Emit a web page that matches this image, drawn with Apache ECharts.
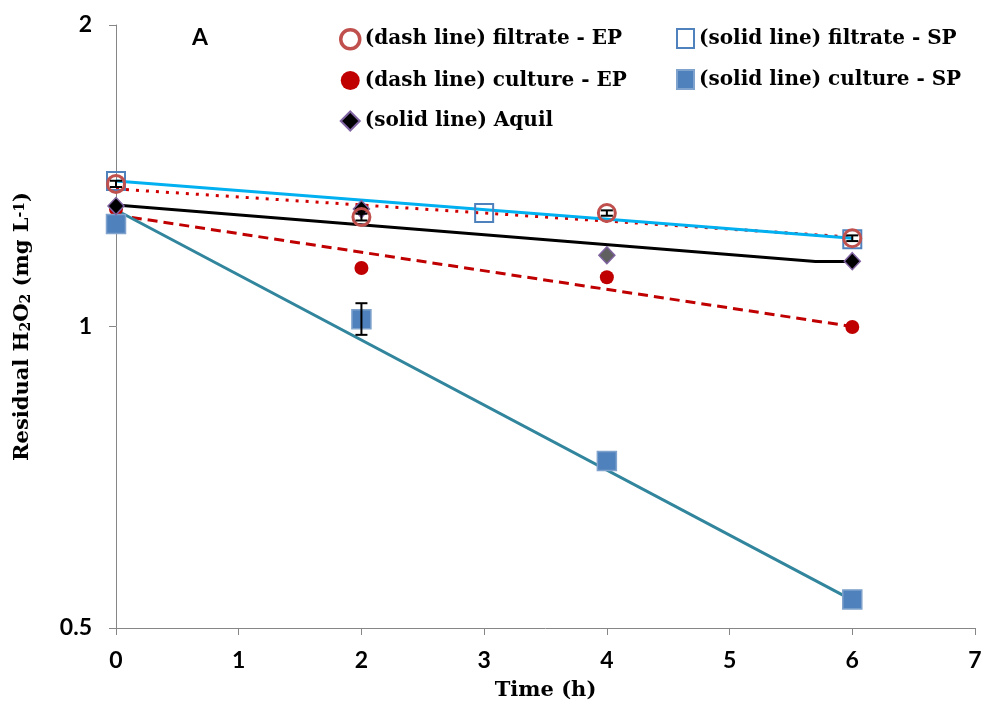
<!DOCTYPE html>
<html><head><meta charset="utf-8">
<script src="https://cdn.jsdelivr.net/npm/echarts@6/dist/echarts.min.js"></script>
<style>html,body{margin:0;padding:0;background:#fff}#c{width:986px;height:713px}</style>
</head><body><div id="c"></div>
<script>
const xTicks = [0,1,2,3,4,5,6,7];
const yTicks = [0.5,1,2];
const filtrateEP = [[0,1.388],[2,1.286],[4,1.298],[6,1.225]];
const filtrateSP = [[0,1.397],[3,1.298],[6,1.222]];
const cultureEP  = [[0,1.31],[2,1.144],[4,1.12],[6,0.999]];
const cultureSP  = [[0,1.266],[2,1.017],[4,0.734],[6,0.534]];
const aquil      = [[0,1.319],[2,1.31],[4,1.178],[6,1.162]];
const trendFEP = [[0,1.372],[6,1.228]];
const trendFSP = [[0,1.397],[6,1.225]];
const trendCEP = [[0,1.292],[6,1.0]];
const trendCSP = [[0,1.307],[6,0.533]];
const trendAQ  = [[0,1.322],[5.7,1.161],[6,1.161]];
const errBars = [[0,1.378,1.398],[2,1.276,1.296],[4,1.29,1.306],[6,1.217,1.233],[2,0.981,1.055]];
const names = ['(dash line) filtrate - EP','(solid line) filtrate - SP','(dash line) culture - EP','(solid line) culture - SP','(solid line) Aquil'];

const chart = echarts.init(document.getElementById('c'));
const SERIF = 'DejaVu Serif';
const lbl = {fontFamily:'Lato',fontWeight:'bold',fontSize:23,color:'#000'};
const legText = {fontFamily:SERIF,fontWeight:'bold',fontSize:20,color:'#000',lineHeight:20};
chart.setOption({
  animation:false,
  grid:{left:116,right:11,top:25,bottom:85},
  xAxis:{type:'value',min:0,max:7,interval:1,
    axisLine:{lineStyle:{color:'#868686'}},axisTick:{length:7,lineStyle:{color:'#868686'}},
    splitLine:{show:false},axisLabel:Object.assign({margin:21},lbl),
    name:'Time (h)',nameLocation:'middle',nameGap:52,
    nameTextStyle:{fontFamily:SERIF,fontWeight:'bold',fontSize:21,color:'#000'}},
  yAxis:{type:'log',logBase:2,min:0.5,max:2,
    axisLine:{show:true,lineStyle:{color:'#868686'}},axisTick:{show:true,length:7,lineStyle:{color:'#868686'}},
    splitLine:{show:false},minorTick:{show:false},
    axisLabel:Object.assign({margin:24,formatter:v=>String(+v.toFixed(3))},lbl),
    name:'{a|Residual H}{s|2}{a|O}{s|2}{a| (mg L}{p|-1}{a|)}',nameLocation:'middle',nameGap:78,nameRotate:90,
    nameTextStyle:{rich:{
      a:{fontFamily:SERIF,fontWeight:'bold',fontSize:21,color:'#000',verticalAlign:'middle',height:24,lineHeight:24},
      s:{fontFamily:SERIF,fontWeight:'bold',fontSize:14,color:'#000',verticalAlign:'bottom',height:24,lineHeight:30},
      p:{fontFamily:SERIF,fontWeight:'bold',fontSize:14,color:'#000',verticalAlign:'top',height:24,lineHeight:14}}}},
  legend:[
    {data:[{name:names[0],itemStyle:{borderWidth:3.5}},names[2],{name:names[4],itemStyle:{color:'#000'}}],
      orient:'vertical',left:339,top:28,padding:0,itemGap:20,itemWidth:19,itemHeight:19,textStyle:legText},
    {data:[names[1],names[3]],orient:'vertical',left:676,top:28,padding:0,itemGap:20,itemWidth:17,itemHeight:19,textStyle:legText}
  ],
  graphic:[{type:'text',left:192,top:26,style:{text:'A',font:'bold 23px Lato',fill:'#000'}}],
  series:[
    {type:'line',data:trendFEP,showSymbol:false,symbol:'none',lineStyle:{color:'#D00000',width:3,type:[3,7]},z:2,silent:true},
    {type:'line',data:trendFSP,showSymbol:false,symbol:'none',lineStyle:{color:'#00B0F0',width:3},z:2,silent:true},
    {type:'line',data:trendCEP,showSymbol:false,symbol:'none',lineStyle:{color:'#C00000',width:3,type:[10,6]},z:2,silent:true},
    {type:'line',data:trendCSP,showSymbol:false,symbol:'none',lineStyle:{color:'#31859C',width:3},z:2,silent:true},
    {type:'line',data:trendAQ,showSymbol:false,symbol:'none',lineStyle:{color:'#000',width:3},z:2,silent:true},
    {name:names[1],type:'scatter',data:filtrateSP,symbol:'rect',symbolSize:18,
      itemStyle:{opacity:1,color:'rgba(255,255,255,0)',borderColor:'#4F81BD',borderWidth:2},z:3},
    {name:names[2],type:'scatter',data:cultureEP,symbol:'circle',symbolSize:14,
      itemStyle:{opacity:1,color:'#C00000',borderColor:'#C00000',borderWidth:0},z:3},
    {name:names[3],type:'scatter',data:cultureSP,symbol:'rect',symbolSize:19,
      itemStyle:{opacity:1,color:'#4F81BD',borderColor:'#7FA3CC',borderWidth:1.5},z:3},
    {name:names[4],type:'scatter',data:aquil,symbol:'diamond',symbolSize:[16,17],
      itemStyle:{opacity:1,color:p=>p.dataIndex===2?'#606060':'#000',borderColor:'#8064A2',borderWidth:1.5},z:4},
    {name:names[0],type:'scatter',data:filtrateEP,symbol:'circle',symbolSize:17,
      itemStyle:{opacity:1,color:'rgba(255,255,255,0)',borderColor:'#C0504D',borderWidth:3},z:5},
    {type:'custom',data:errBars,z:6,silent:true,
      renderItem:(p,api)=>{
        const lo=api.coord([api.value(0),api.value(1)]), hi=api.coord([api.value(0),api.value(2)]);
        const w=6;
        return {type:'group',children:[
          {type:'line',shape:{x1:lo[0],y1:lo[1],x2:hi[0],y2:hi[1]},style:{stroke:'#000',lineWidth:2}},
          {type:'line',shape:{x1:lo[0]-w,y1:lo[1],x2:lo[0]+w,y2:lo[1]},style:{stroke:'#000',lineWidth:2}},
          {type:'line',shape:{x1:hi[0]-w,y1:hi[1],x2:hi[0]+w,y2:hi[1]},style:{stroke:'#000',lineWidth:2}}]};
      }}
  ]
});
</script></body></html>
